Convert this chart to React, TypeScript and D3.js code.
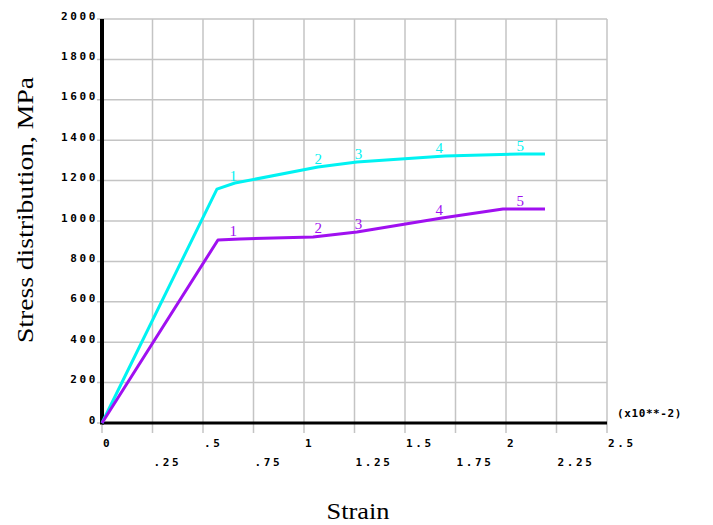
import React from "react";
import * as d3 from "d3";

const W = 713;
const H = 525;

// Data (strain in x10^-2, stress in MPa)
const cyanStrain = [0, 0.569, 0.658, 1.069, 1.262, 1.698, 2.069, 2.193];
const cyanStress = [0, 1158, 1188, 1267, 1292, 1322, 1332, 1332];
const purpleStrain = [0, 0.574, 0.683, 1.045, 1.262, 1.683, 1.985, 2.193];
const purpleStress = [0, 906, 911, 921, 946, 1015, 1059, 1059];
const nodeLabels = ["1", "2", "3", "4", "5"];
const nodeStrain = [0.65, 1.07, 1.27, 1.67, 2.07];

const xTicksMajor = [0, 0.5, 1, 1.5, 2, 2.5];
const xTickLabelsMajor = ["0", ".5", "1", "1.5", "2", "2.5"];
const xTicksMinor = [0.25, 0.75, 1.25, 1.75, 2.25];
const xTickLabelsMinor = [".25", ".75", "1.25", "1.75", "2.25"];
const yTicks = [0, 200, 400, 600, 800, 1000, 1200, 1400, 1600, 1800, 2000];

const CYAN = "#00f2f2";
const PURPLE = "#a010f0";

export default function App() {
  const x = d3.scaleLinear().domain([0, 2.5]).range([102, 607]);
  const y = d3.scaleLinear().domain([0, 2000]).range([423, 19]);
  const allX = d3.range(0, 2.5001, 0.25);

  const line = d3
    .line<[number, number]>()
    .x((d) => x(d[0]))
    .y((d) => y(d[1]));

  const cyanPts = cyanStrain.map((s, i) => [s, cyanStress[i]] as [number, number]);
  const purplePts = purpleStrain.map((s, i) => [s, purpleStress[i]] as [number, number]);
  const cyanAt = d3.scaleLinear().domain(cyanStrain).range(cyanStress);
  const purpleAt = d3.scaleLinear().domain(purpleStrain).range(purpleStress);

  const mono = "'DejaVu Sans Mono', 'Liberation Mono', monospace";
  const serif = "'Liberation Serif', 'DejaVu Serif', serif";
  const tickStyle = {
    fontFamily: mono,
    fontSize: 11,
    letterSpacing: 2.6,
    fontWeight: 600,
  } as const;

  return (
    <svg
      width={W}
      height={H}
      style={{ position: "absolute", left: 0, top: 0, background: "#fff" }}
    >
      <rect x={0} y={0} width={W} height={H} fill="#fff" />
      {/* grid */}
      {allX.map((v, i) => (
        <line
          key={"gx" + i}
          x1={x(v)}
          x2={x(v)}
          y1={y(2000)}
          y2={y(0) + 10}
          stroke="#c4c4c4"
          strokeWidth={1.5}
        />
      ))}
      {yTicks.map((v, i) => (
        <line
          key={"gy" + i}
          x1={x(0) - 5}
          x2={x(2.5)}
          y1={y(v)}
          y2={y(v)}
          stroke="#c4c4c4"
          strokeWidth={1.5}
        />
      ))}
      {/* axes */}
      <line x1={x(0)} x2={x(2.5)} y1={y(0)} y2={y(0)} stroke="#000" strokeWidth={3} />
      <line x1={x(0)} x2={x(0)} y1={y(2000)} y2={y(0) + 1.5} stroke="#000" strokeWidth={4} />

      {/* y tick labels */}
      {yTicks.map((v, i) => (
        <text key={"yl" + i} x={98} y={y(v) + 0.5} textAnchor="end" fill="#000" {...tickStyle}>
          {String(v)}
        </text>
      ))}
      {/* x tick labels */}
      {xTicksMajor.map((v, i) => (
        <text key={"xm" + i} x={x(v) + 1} y={447} fill="#000" {...tickStyle}>
          {xTickLabelsMajor[i]}
        </text>
      ))}
      {xTicksMinor.map((v, i) => (
        <text key={"xn" + i} x={x(v) + 1} y={466} fill="#000" {...tickStyle}>
          {xTickLabelsMinor[i]}
        </text>
      ))}
      <text
        x={617}
        y={417}
        fill="#000"
        fontFamily={mono}
        fontSize={11}
        letterSpacing={0.6}
        fontWeight={600}
      >
        (x10**-2)
      </text>

      {/* curves */}
      <path d={line(cyanPts) || ""} fill="none" stroke={CYAN} strokeWidth={3} strokeLinejoin="round" />
      <path d={line(purplePts) || ""} fill="none" stroke={PURPLE} strokeWidth={3} strokeLinejoin="round" />

      {/* node labels */}
      {nodeStrain.map((s, i) => (
        <text
          key={"cl" + i}
          x={x(s)}
          y={y(cyanAt(s)) - 3}
          textAnchor="middle"
          fontFamily={serif}
          fontSize={15}
          fill={CYAN}
        >
          {nodeLabels[i]}
        </text>
      ))}
      {nodeStrain.map((s, i) => (
        <text
          key={"pl" + i}
          x={x(s)}
          y={y(purpleAt(s)) - 3}
          textAnchor="middle"
          fontFamily={serif}
          fontSize={15}
          fill={PURPLE}
        >
          {nodeLabels[i]}
        </text>
      ))}

      {/* axis titles */}
      <text
        x={358}
        y={519}
        textAnchor="middle"
        fontFamily={serif}
        fontSize={23}
        textLength={63}
        lengthAdjust="spacingAndGlyphs"
        fill="#000"
      >
        Strain
      </text>
      <text
        transform={`translate(33,210) rotate(-90)`}
        textAnchor="middle"
        fontFamily={serif}
        fontSize={24}
        textLength={266}
        lengthAdjust="spacingAndGlyphs"
        fill="#000"
      >
        Stress distribution, MPa
      </text>
    </svg>
  );
}
